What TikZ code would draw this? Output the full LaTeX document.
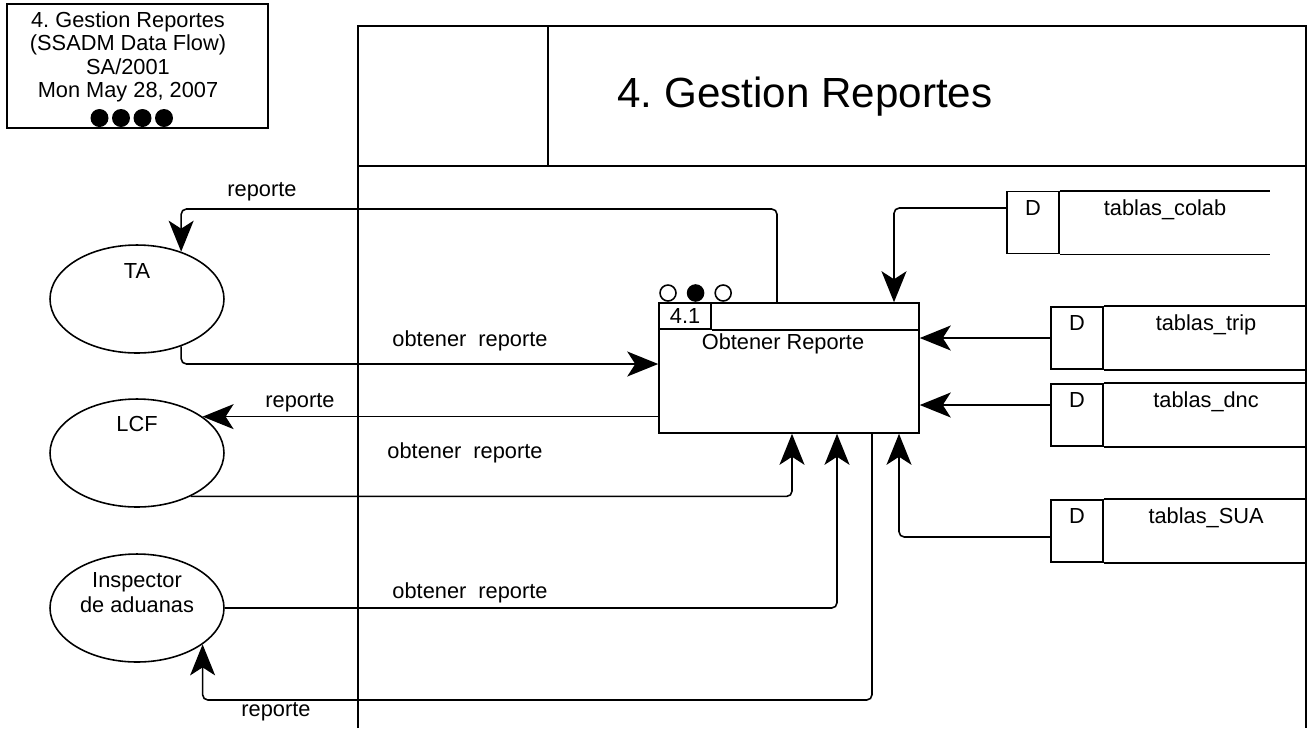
\documentclass[tikz,border=0pt]{standalone}
\usepackage{fontspec}
\setmainfont{Liberation Sans}
\frenchspacing
\usetikzlibrary{arrows.meta, positioning, shapes.geometric}

\begin{document}
\begin{tikzpicture} [x = 0.02cm, y = -0.02cm, line width = 0.9pt, font = \fontsize{12.4}{13.4}\selectfont,
	actor/.style = {ellipse, draw, minimum width = 3.48cm, minimum height = 2.16cm, inner sep = 0pt},
	storeid/.style = {draw, inner sep = 0pt, minimum width = 1.04cm, text height = 0.47cm, text depth = 0.77cm},
	storename/.style = {inner sep = 0pt, minimum width = 4.06cm, text height = 0.47cm, text depth = 0.77cm},
	flow/.style = {-{Stealth[length = 0.62cm, width = 0.5cm, inset = 0.16cm]}, rounded corners = 3pt}]
		\useasboundingbox (0,0) rectangle (1307,728);
		% Help grid
		%	\draw [help lines, step = 50] (0,0) grid (1307,728);

		% Info box (top left)
		\node (info) [draw, minimum width = 5.22cm, minimum height = 2.48cm, inner sep = 0pt] at (137.5,66) {};
		\node (infoText) [align = center, font = \fontsize{12.4}{13.3}\selectfont] at (128,57)
		{4. Gestion Reportes\\(SSADM Data Flow)\\SA/2001\\Mon May 28, 2007};
		\foreach \i in {0,...,3}
			\node (dot\i) [circle, fill, minimum size = 0.36cm, inner sep = 0pt] at (99.5+21.5*\i,118) {};

		% Frame with title cell
		\draw (358,728) -- (358,26) -- (1306,26) -- (1306,728);
		\draw (358,166) -- (1306,166);
		\draw (548,26) -- (548,166);
		\node (title) [font = \fontsize{24}{28}\selectfont] at (805,97) {4. Gestion Reportes};

		% Process : every connector ends on this one
		\node (proc) [draw, minimum width = 5.2cm, minimum height = 2.6cm, inner sep = 0pt] at (789,368) {};
		\node (procId) [draw, anchor = north west, minimum width = 1.04cm, minimum height = 0.52cm, inner sep = 0pt]
		at (proc.north west) {4.1};
		\draw (procId.south east) -- (procId.south -| proc.east);
		\node (procName) at (783,344) {Obtener Reporte};
		\node (st1) [circle, draw, minimum size = 0.32cm, inner sep = 0pt] at (668,293) {};
		\node (st2) [circle, draw, fill, minimum size = 0.32cm, inner sep = 0pt, right = 0.2cm of st1] {};
		\node (st3) [circle, draw, minimum size = 0.32cm, inner sep = 0pt, right = 0.2cm of st2] {};

		% External entities
		\node (ta) [actor, label = {[anchor = north, yshift = -0.25cm]north:TA}] at (137,299) {};
		\node (lcf) [actor, label = {[anchor = north, yshift = -0.22cm]north:LCF}] at (137,453) {};
		\node (insp) [actor, label = {[anchor = north, yshift = -0.25cm, align = center,
		font = \fontsize{12.4}{14.2}\selectfont]north:Inspector\\de aduanas}] at (137,608) {};

		% Data stores
		\node (colabD) [storeid] at (1033,222.5) {D};
		\node (colab) [storename, minimum width = 4.18cm, right = 0pt of colabD] {tablas\_colab};
		\node (tripD) [storeid] at (1077,338) {D};
		\node (trip) [storename, right = 0pt of tripD] {tablas\_trip};
		\node (dncD) [storeid] at (1077,415) {D};
		\node (dnc) [storename, right = 0pt of dncD] {tablas\_dnc};
		\node (suaD) [storeid] at (1077,531) {D};
		\node (sua) [storename, right = 0pt of suaD] {tablas\_SUA};
		\foreach \s in {colab, trip, dnc, sua}
			\draw (\s.north west) -- (\s.north east) (\s.south west) -- (\s.south east);

		% Draw Arrows/Connections
		\coordinate (taTurn) at (ta.47 |- 0,209);
		\coordinate (inspTurn) at (insp.-29 |- 0,700);
		\draw [flow] (proc.north -| 777,0) |- (taTurn) -- (ta.47);
		\draw [flow] (ta.-47) |- (proc.west |- 0,364);
		\draw [flow] (lcf.-39) -| (proc.south -| 792,0);
		\draw [flow] (insp.east) -| (proc.south -| 837,0);
		\draw [flow] (proc.south -| 872,0) |- (inspTurn) -- (insp.-29);
		\draw [flow] (colabD.west |- 0,208) -| (proc.north -| 894,0);
		\draw [flow] (suaD.west |- 0,537) -| (proc.south -| 899,0);
		\path [flow]
		(proc.west |- lcf.29) edge [] (lcf.29)
		(tripD.west) edge [] (proc.east |- tripD.west)
		(dncD.west |- 0,405) edge [] (proc.east |- 0,405);

		% Flow labels
		\node (lblRepTa) at (262,192) {reporte};
		\node (lblObtTa) at (470,341) {obtener\ \ reporte};
		\node (lblRepLcf) at (300,403) {reporte};
		\node (lblObtLcf) at (465,453) {obtener\ \ reporte};
		\node (lblObtInsp) at (470,593) {obtener\ \ reporte};
		\node (lblRepInsp) at (276,712) {reporte};
	\end{tikzpicture}
\end{document}
